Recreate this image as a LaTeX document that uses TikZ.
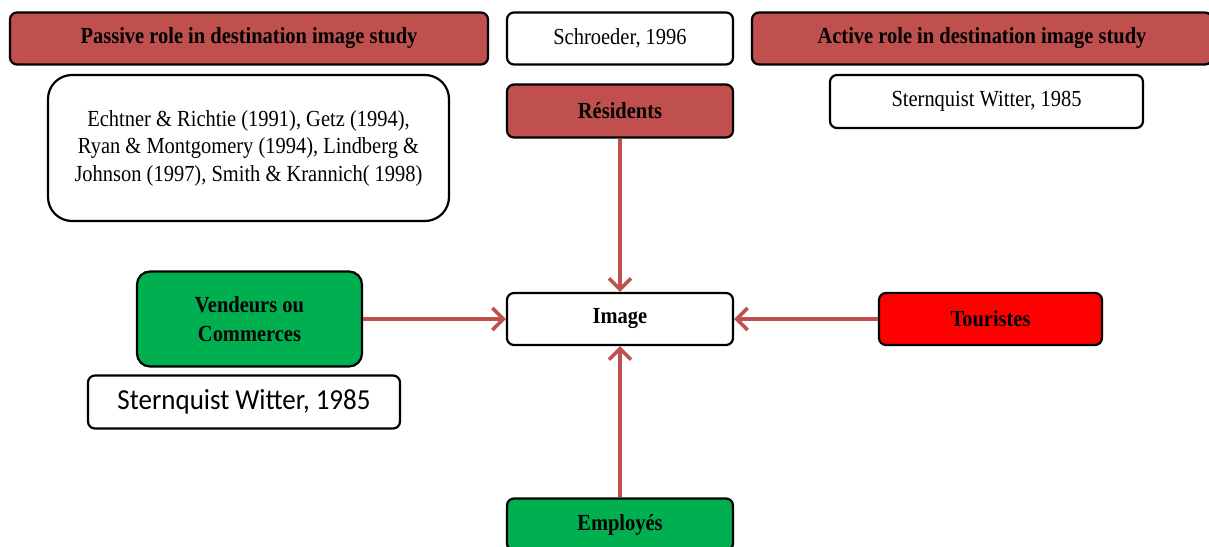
\documentclass[tikz,border=0pt]{standalone}
\usepackage{fontspec}
\setmainfont{Liberation Serif}[FakeStretch=0.89]
\newfontfamily\calibrifont{Carlito}[FakeStretch=0.93]
\usepackage{tikz}
\usepackage{xcolor}
\usetikzlibrary{shapes,arrows.meta}
\definecolor{rougebrun}{HTML}{C0504D}
\definecolor{vert}{HTML}{00B050}
\definecolor{rouge}{HTML}{FF0000}

\begin{document}
\begin{tikzpicture}[x=1pt,y=-1pt]
\tikzstyle{boite} = [rectangle, draw, line width=2.2pt, rounded corners=7pt, align=center, inner sep=0pt, font=\fontsize{23}{27.5}\selectfont]
\tikzstyle{titre} = [boite, fill=rougebrun, font=\fontsize{23}{27}\selectfont\bfseries]
\tikzstyle{acteur} = [boite, minimum width=226pt, minimum height=52pt, font=\fontsize{23}{29}\selectfont\bfseries]
\tikzstyle{ref} = [boite, fill=white, minimum height=53pt]
\tikzstyle{fleche} = [draw=rougebrun, line width=3.5pt, -{Straight Barb[length=11pt,width=22pt]}]
\useasboundingbox (0,0) rectangle (1209,546);
% titres
\node[titre, minimum width=478pt, minimum height=52pt] (passive) at (249,38.5) {Passive role in destination image study};
\node[ref, minimum width=226pt, minimum height=52pt] (schroeder) at (620,38.5) {Schroeder, 1996};
\node[titre, minimum width=460pt, minimum height=52pt] (active) at (982,38.5) {Active role in destination image study};
% references
\node[boite, rounded corners=24pt, minimum width=401pt, minimum height=146pt] (echtner) at (248.5,148)
	{Echtner \& Richtie (1991), Getz (1994),\\Ryan \& Montgomery (1994), Lindberg \&\\Johnson (1997), Smith \& Krannich( 1998)};
\node[ref, minimum width=313pt] (sternhaut) at (986.5,101.5) {Sternquist Witter, 1985};
\node[ref, minimum width=312pt, font=\calibrifont\fontsize{29}{32}\selectfont] (sterngauche) at (244,402) {Sternquist Witter, 1985};
% acteurs
\node[acteur, fill=rougebrun, minimum height=53pt] (residents) at (620,111) {Résidents};
\node[acteur, fill=white] (image) at (620,319) {Image};
\node[acteur, fill=vert, rounded corners=13pt, minimum width=225pt, minimum height=95pt] (vendeurs) at (249.5,319) {Vendeurs ou\\Commerces};
\node[acteur, fill=rouge, minimum width=223pt] (touristes) at (990.5,319) {Touristes};
\node[acteur, fill=vert] (employes) at (620,524.5) {Employés};
% fleches
\draw[fleche] (residents) -- (image);
\draw[fleche] (vendeurs) -- (image);
\draw[fleche] (touristes) -- (image);
\draw[fleche] (employes) -- (image);
\end{tikzpicture}
\end{document}
